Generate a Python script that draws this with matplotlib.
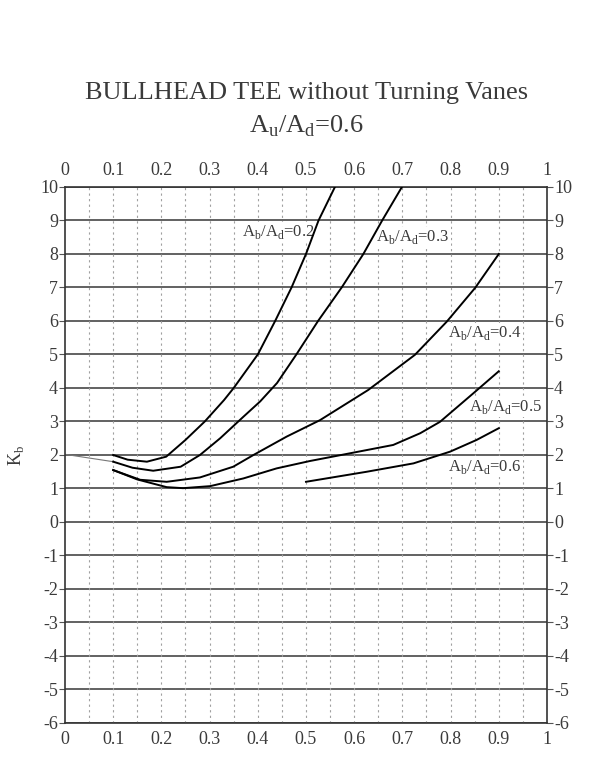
import matplotlib
matplotlib.use('Agg')
import matplotlib.pyplot as plt

plt.rcParams['font.family'] = ['Liberation Serif', 'DejaVu Serif']
plt.rcParams['mathtext.fontset'] = 'custom'
plt.rcParams['mathtext.rm'] = 'Liberation Serif'
plt.rcParams['axes.unicode_minus'] = False

# curves: y = K_b
x02 = [0.10, 0.13, 0.17, 0.21, 0.25, 0.29, 0.33, 0.35, 0.40, 0.436, 0.47, 0.50, 0.526, 0.56]
y02 = [2.00, 1.86, 1.80, 1.95, 2.45, 3.00, 3.64, 4.00, 5.00, 6.00, 7.00, 8.00, 9.00, 10.0]

x03 = [0.10, 0.14, 0.183, 0.24, 0.28, 0.322, 0.37, 0.405, 0.44, 0.48, 0.525, 0.574, 0.619, 0.658, 0.699]
y03 = [1.80, 1.62, 1.53, 1.65, 2.00, 2.50, 3.14, 3.60, 4.15, 5.00, 6.00, 7.00, 8.00, 9.00, 10.0]

x04 = [0.10, 0.156, 0.211, 0.28, 0.349, 0.391, 0.46, 0.529, 0.629, 0.726, 0.792, 0.851, 0.90]
y04 = [1.55, 1.26, 1.20, 1.33, 1.65, 2.00, 2.55, 3.04, 3.94, 4.99, 5.98, 6.99, 8.00]

x05 = [0.10, 0.15, 0.211, 0.245, 0.301, 0.37, 0.439, 0.508, 0.591, 0.681, 0.737, 0.778, 0.847, 0.90]
y05 = [1.55, 1.27, 1.04, 1.01, 1.07, 1.30, 1.60, 1.82, 2.05, 2.30, 2.65, 2.99, 3.84, 4.50]

x06 = [0.50, 0.626, 0.723, 0.799, 0.854, 0.90]
y06 = [1.20, 1.50, 1.75, 2.10, 2.45, 2.80]

# thin lead-in line at the left
x_lead = [0.0, 0.10]
y_lead = [2.02, 1.80]

curves = [(x02, y02), (x03, y03), (x04, y04), (x05, y05), (x06, y06)]
labels = ['0.2', '0.3', '0.4', '0.5', '0.6']
label_pos = [(0.443, 8.65), (0.722, 8.5), (0.871, 5.64), (0.915, 3.43), (0.871, 1.65)]

xticks = [0, 0.1, 0.2, 0.3, 0.4, 0.5, 0.6, 0.7, 0.8, 0.9, 1]
xticklabels = ['0', '0.1', '0.2', '0.3', '0.4', '0.5', '0.6', '0.7', '0.8', '0.9', '1']
yticks = list(range(-6, 11))
yticklabels = [str(v) for v in yticks]

fig = plt.figure(figsize=(6.09, 7.74), dpi=100)
ax = fig.add_axes([0.1067, 0.0659, 0.7915, 0.6925])
ax.set_xlim(0, 1)
ax.set_ylim(-6, 10)

for v in yticks:
    ax.axhline(v, color='#555555', lw=1.3, zorder=1)
for i in range(1, 20):
    ax.axvline(i * 0.05, color='#a0a0a0', lw=0.8, ls=(0, (2, 3)), zorder=1)

ax.plot(x_lead, y_lead, color='#777777', lw=0.8, zorder=2)
for cx, cy in curves:
    ax.plot(cx, cy, color='black', lw=1.4, zorder=5)

for lab, (lx, ly) in zip(labels, label_pos):
    ax.text(lx, ly, r'A$_{\rm b}$/A$_{\rm d}$=' + lab, ha='center', va='center',
            fontsize=12, color='#3a3a3a', zorder=2,
            bbox=dict(facecolor='white', edgecolor='none', pad=1.0))

ax.set_xticks(xticks)
ax.set_xticklabels(xticklabels)
ax.set_yticks(yticks)
ax.set_yticklabels(yticklabels)
ax.tick_params(axis='x', top=True, labeltop=True, length=0, pad=6,
               labelsize=13, labelcolor='#3a3a3a')
ax.tick_params(axis='y', right=True, labelright=True, direction='out', length=4,
               pad=1, labelsize=13, labelcolor='#3a3a3a', color='#555555')
for s in ax.spines.values():
    s.set_linewidth(1.2)
    s.set_color('#333333')

fig.text(0.027, 0.412, r'K$_{\rm b}$', rotation=90, ha='center', va='center',
         fontsize=13, color='#3a3a3a')
fig.text(0.503, 0.880, 'BULLHEAD TEE without Turning Vanes', ha='center', va='center',
         fontsize=19, color='#3a3a3a')
fig.text(0.503, 0.837, r'A$_{\rm u}$/A$_{\rm d}$=0.6', ha='center', va='center',
         fontsize=19, color='#3a3a3a')

fig.savefig('out.png', dpi=100)
